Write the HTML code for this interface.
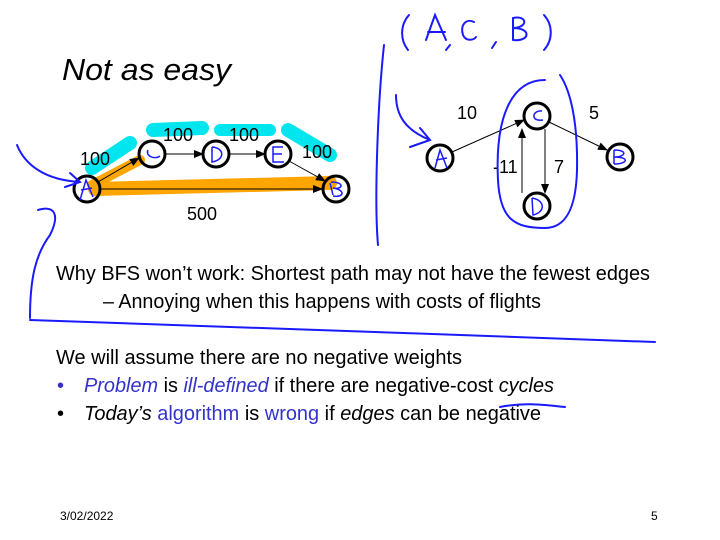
<!DOCTYPE html>
<html><head><style>
body{margin:0;width:720px;height:540px;background:#fff;overflow:hidden}
svg{position:absolute;left:0;top:0}
text{font-family:"Liberation Sans",sans-serif}
</style></head><body>
<svg width="720" height="540" viewBox="0 0 720 540">
<defs><marker id="ar" markerWidth="10" markerHeight="8" refX="9" refY="4" orient="auto" markerUnits="userSpaceOnUse"><path d="M0,0 L10,4 L0,8z" fill="#000"/></marker></defs>
<text x="62" y="80" font-size="31" font-style="italic" textLength="169" lengthAdjust="spacingAndGlyphs">Not as easy</text>
<g stroke-linecap="round" fill="none">
<path d="M92,168 L130,143" stroke="#00e5ee" stroke-width="14"/>
<path d="M153,130 L202,128" stroke="#00e5ee" stroke-width="14"/>
<path d="M220,130 L270,130" stroke="#00e5ee" stroke-width="12"/>
<path d="M288,130 L330,155" stroke="#00e5ee" stroke-width="14"/>
<path d="M92,185 L140,160" stroke="#ffa500" stroke-width="10"/>
<path d="M95,189 L330,183" stroke="#ffa500" stroke-width="14"/>
</g>
<g stroke="#000" stroke-width="1" fill="none">
<line x1="98" y1="182" x2="139" y2="158" marker-end="url(#ar)"/>
<line x1="165" y1="154" x2="203" y2="154" marker-end="url(#ar)"/>
<line x1="229" y1="154" x2="265" y2="154" marker-end="url(#ar)"/>
<line x1="289" y1="161" x2="325" y2="181" marker-end="url(#ar)"/>
<line x1="100" y1="189" x2="322" y2="189" marker-end="url(#ar)"/>
<line x1="452" y1="152" x2="524" y2="120" marker-end="url(#ar)"/>
<line x1="549" y1="122" x2="607" y2="150" marker-end="url(#ar)"/>
<line x1="545" y1="129" x2="545" y2="193" marker-end="url(#ar)"/>
<line x1="522" y1="193" x2="522" y2="129" marker-end="url(#ar)"/>
</g>
<g stroke="#000" stroke-width="3" fill="none">
<circle cx="87" cy="189" r="13"/><circle cx="152" cy="154" r="13"/><circle cx="216" cy="154" r="13"/><circle cx="278" cy="154" r="13"/><circle cx="336" cy="189" r="13"/>
<circle cx="440" cy="158" r="13"/><circle cx="537" cy="116" r="13"/><circle cx="537" cy="206" r="13"/><circle cx="620" cy="157" r="13"/>
</g>
<g font-size="18">
<text x="80" y="165">100</text><text x="163" y="141">100</text><text x="229" y="141">100</text><text x="302" y="158">100</text><text x="187" y="220">500</text>
<text x="457" y="119">10</text><text x="589" y="119">5</text><text x="493" y="173">-11</text><text x="554" y="173">7</text>
</g>
<g stroke="#1a1aff" stroke-width="2" fill="none" stroke-linecap="round">
<path d="M17,145 C25,165 45,180 80,182 M70,173 L80,182 L65,187"/>
<path d="M38,210 C55,205 60,215 50,235 C35,255 30,280 30,318"/>
<path d="M30,320 C200,325 450,335 655,342"/>
<path d="M384,45 C378,100 374,200 378,245"/>
<path d="M396,95 C396,115 405,130 430,140 M420,128 L430,140 L410,147"/>
<path d="M409,15 C400,25 400,40 408,50 M426,40 L435,15 L446,40 M428,32 L445,32 M450,45 L446,50 M474,22 C466,18 460,25 463,35 C466,42 474,40 476,37 M496,42 L492,48 M513,18 L513,40 M513,18 C528,15 528,28 513,28 C532,28 530,42 513,40 M544,15 C553,25 553,40 544,50"/>
<path d="M545,80 C510,80 495,120 498,180 C500,220 515,228 545,228 C565,228 576,210 577,170 C578,120 570,90 560,75"/>
<path d="M500,407 C525,402 545,405 565,407"/>
</g>
<g stroke="#1a1aff" stroke-width="1.5" fill="none">
<path d="M80,200 L86,180 L93,197 M81,190 L92,188"/><path d="M148,150 C145,156 155,160 160,156"/><path d="M212,147 L212,162 C225,160 225,148 212,147"/><path d="M283,147 L273,147 L273,162 L284,162 M273,154 L282,154"/><path d="M330,183 L333,195 M331,182 C345,182 343,190 333,188 C346,190 344,198 333,196"/>
<path d="M435,168 L440,150 L447,168 M436,160 L447,158"/><path d="M542,111 C532,110 530,122 543,120"/><path d="M532,198 L533,215 C546,212 545,200 532,198"/><path d="M614,150 L614,164 M614,150 C628,150 626,157 614,157 C630,157 628,164 614,164"/>
</g>
<g font-size="20">
<text x="56" y="280" textLength="594" lengthAdjust="spacingAndGlyphs">Why BFS won’t work: Shortest path may not have the fewest edges</text>
<text x="103" y="308" textLength="438" lengthAdjust="spacingAndGlyphs">–  Annoying when this happens with costs of flights</text>
<text x="56" y="364" textLength="406" lengthAdjust="spacingAndGlyphs">We will assume there are no negative weights</text>
<text x="57" y="392" fill="#3333cc">•</text>
<text x="84" y="392" textLength="470" lengthAdjust="spacingAndGlyphs"><tspan font-style="italic" fill="#3333cc">Problem</tspan> is <tspan font-style="italic" fill="#3333cc">ill-defined</tspan> if there are negative-cost <tspan font-style="italic">cycles</tspan></text>
<text x="57" y="420">•</text>
<text x="84" y="420" textLength="457" lengthAdjust="spacingAndGlyphs"><tspan font-style="italic">Today’s</tspan> <tspan fill="#3333cc">algorithm</tspan> is <tspan fill="#3333cc">wrong</tspan> if <tspan font-style="italic">edges</tspan> can be negative</text>
</g>
<text x="60" y="520" font-size="12" font-family="Liberation Serif">3/02/2022</text>
<text x="651" y="520" font-size="12" font-family="Liberation Serif">5</text>
</svg>
</body></html>
